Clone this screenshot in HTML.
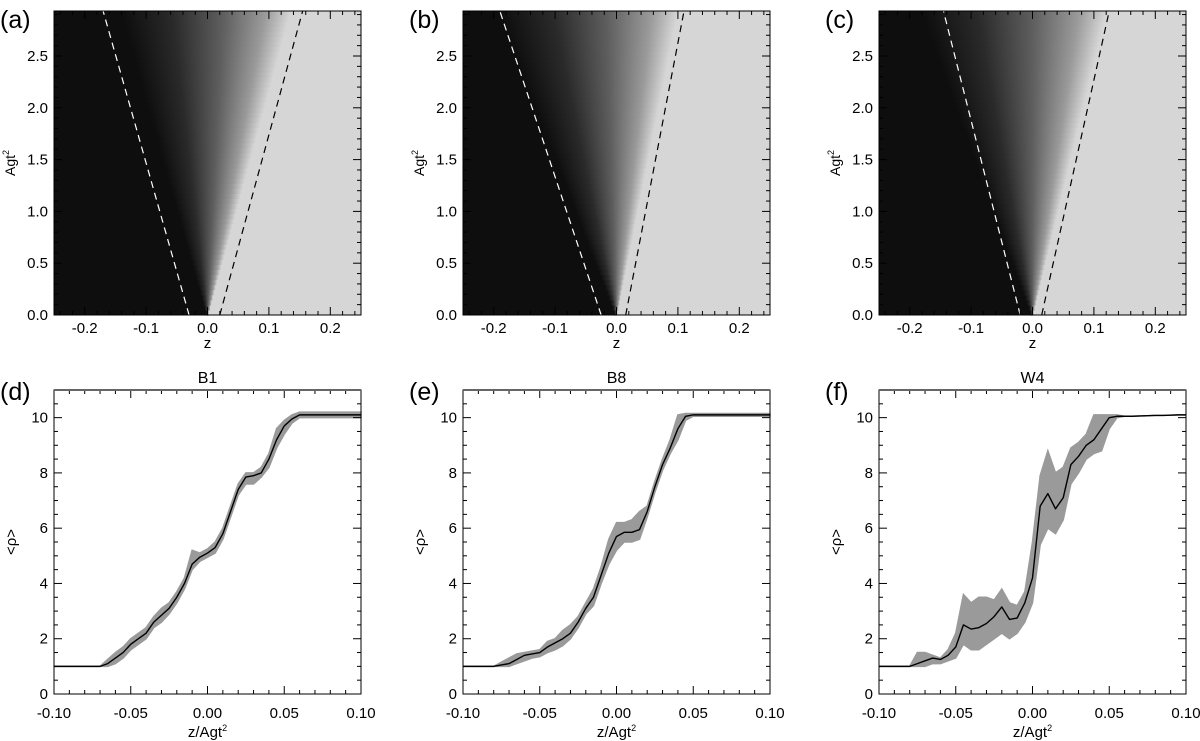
<!DOCTYPE html>
<html><head><meta charset="utf-8"><style>
html,body{margin:0;padding:0;background:#fff;}
svg{display:block;font-family:"Liberation Sans",sans-serif;}
</style></head><body>
<svg id="fig" width="1200" height="741" viewBox="0 0 1200 741">
<defs>
<linearGradient id="fan" x1="0" y1="0" x2="1" y2="0">
<stop offset="0" stop-color="#0e0e0e"/><stop offset="0.3" stop-color="#2a2a2a"/>
<stop offset="0.6" stop-color="#5e5e5e"/><stop offset="0.85" stop-color="#9a9a9a"/>
<stop offset="1" stop-color="#d6d6d6"/></linearGradient>
</defs>
</svg>
<script>
// ---- data ----
const panelLetters = ["(a)","(b)","(c)","(d)","(e)","(f)"];
const runNames = ["B1","B8","W4"];
const fanLeft = [-0.14,-0.19,-0.18];
const fanRight = [0.135,0.10,0.12];
const whiteLineBottom = [-0.03,-0.025,-0.02];
const whiteLineTop = [-0.17,-0.19,-0.145];
const blackLineBottom = [0.02,0.015,0.015];
const blackLineTop = [0.155,0.11,0.125];
const topXTicks = [-0.2,-0.1,0.0,0.1,0.2];
const topYTicks = [0.0,0.5,1.0,1.5,2.0,2.5];
const botXTicks = [-0.10,-0.05,0.00,0.05,0.10];
const botYTicks = [0,2,4,6,8,10];
const zx = Array.from({length:41},(_, i)=> -0.1 + i*0.005);
const meanB1 = [1,1,1,1,1,1,1,1.1,1.3,1.5,1.8,2.0,2.2,2.6,2.85,3.1,3.5,4.0,4.7,4.95,5.1,5.3,5.8,6.6,7.4,7.85,7.9,8.0,8.5,9.2,9.7,9.95,10.1,10.1,10.1,10.1,10.1,10.1,10.1,10.1,10.1];
const loB1 =   [1,1,1,1,1,1,1,1.0,1.1,1.3,1.6,1.8,2.0,2.4,2.6,2.9,3.3,3.8,4.5,4.8,4.95,5.1,5.6,6.4,7.2,7.6,7.6,7.85,8.2,8.9,9.4,9.8,10.0,10.0,10.0,10.0,10.0,10.0,10.0,10.0,10.0];
const hiB1 =   [1,1,1,1,1,1,1,1.25,1.5,1.7,2.0,2.2,2.4,2.8,3.1,3.3,3.7,4.2,5.2,5.1,5.25,5.5,6.0,6.8,7.6,8.0,8.0,8.2,8.7,9.6,9.9,10.1,10.2,10.2,10.2,10.2,10.2,10.2,10.2,10.2,10.2];
const meanB8 = [1,1,1,1,1,1.05,1.1,1.25,1.4,1.45,1.5,1.7,1.85,2.0,2.2,2.6,3.1,3.5,4.3,5.1,5.7,5.85,5.85,5.95,6.6,7.5,8.3,8.9,9.6,10.05,10.1,10.1,10.1,10.1,10.1,10.1,10.1,10.1,10.1,10.1,10.1];
const loB8 =   [1,1,1,1,1,1.0,1.0,1.1,1.2,1.3,1.35,1.5,1.6,1.75,2.0,2.4,2.9,3.2,4.0,4.7,5.2,5.5,5.5,5.6,6.4,7.3,8.1,8.7,9.2,9.9,10.05,10.05,10.05,10.05,10.05,10.05,10.05,10.05,10.05,10.05,10.05];
const hiB8 =   [1,1,1,1,1,1.15,1.3,1.45,1.5,1.55,1.6,1.9,2.0,2.3,2.5,2.8,3.3,3.8,4.6,5.6,6.2,6.2,6.3,6.6,6.8,7.7,8.5,9.2,10.1,10.15,10.15,10.15,10.15,10.15,10.15,10.15,10.15,10.15,10.15,10.15,10.15];
const meanW4 = [1,1,1,1,1,1.1,1.2,1.3,1.25,1.4,1.7,2.5,2.35,2.4,2.55,2.8,3.15,2.7,2.75,3.3,4.2,6.8,7.25,6.7,7.1,8.3,8.6,9.0,9.2,9.6,10.0,10.05,10.05,10.05,10.06,10.07,10.08,10.08,10.09,10.1,10.1];
const loW4 =   [1,1,1,1,1,1.0,1.0,1.1,1.1,1.2,1.3,1.8,1.6,1.6,1.8,2.0,2.2,2.0,2.2,2.6,3.3,5.4,6.0,5.8,6.3,7.6,8.0,8.5,8.7,8.8,9.6,10.0,10.05,10.05,10.06,10.07,10.08,10.08,10.09,10.1,10.1];
const hiW4 =   [1,1,1,1,1,1.5,1.5,1.4,1.3,1.6,2.2,3.6,3.3,3.5,3.5,3.4,3.8,3.3,3.2,3.7,5.5,7.9,8.8,8.0,8.2,8.9,9.1,9.4,10.1,10.1,10.1,10.1,10.05,10.05,10.06,10.07,10.08,10.08,10.09,10.1,10.1];
const means=[meanB1,meanB8,meanW4], los=[loB1,loB8,loW4], his=[hiB1,hiB8,hiW4];

// ---- layout ----
const NS="http://www.w3.org/2000/svg";
const svg=document.getElementById('fig');
const PX=[54,463,879], PW=307;
const TOP={y0:11,y1:315}, BOT={y0:390,y1:694};
function el(tag,attrs,parent){const e=document.createElementNS(NS,tag);for(const k in attrs)e.setAttribute(k,attrs[k]);(parent||svg).appendChild(e);return e;}
function txt(s,attrs,parent){const t=el('text',attrs,parent);t.textContent=s;return t;}

function ticks(g,sx,sy,x0,x1,y0,y1,xmin,xmax,xmaj,xmin_step,ymin,ymax,ymaj,ymin_step){
  const eps=1e-9;
  for(let v=Math.ceil(xmin/xmin_step-eps)*xmin_step; v<=xmax+eps; v+=xmin_step){
    const maj=Math.abs(v/xmaj-Math.round(v/xmaj))<1e-6; const L=maj?8:4; const X=sx(v);
    const t1=el('line',{x1:X,x2:X,y1:y1,y2:y1-L,stroke:'#000','stroke-width':1},g);
    
    const t2=el('line',{x1:X,x2:X,y1:y0,y2:y0+L,stroke:'#000','stroke-width':1},g);
    
  }
  for(let v=Math.ceil(ymin/ymin_step-eps)*ymin_step; v<=ymax+eps; v+=ymin_step){
    const maj=Math.abs(v/ymaj-Math.round(v/ymaj))<1e-6; const L=maj?8:4; const Y=sy(v);
    const t1=el('line',{x1:x0,x2:x0+L,y1:Y,y2:Y,stroke:'#000','stroke-width':1},g);
    
    const t2=el('line',{x1:x1,x2:x1-L,y1:Y,y2:Y,stroke:'#000','stroke-width':1},g);
    
  }
}

for(let p=0;p<3;p++){
  const x0=PX[p], x1=PX[p]+PW, y0=TOP.y0, y1=TOP.y1;
  const sx=v=>x0+(v+0.25)/0.5*PW;
  const sy=v=>y1-v*103.6;
  const ymax=(y1-y0)/103.6;
  const g=el('g',{});
  
  
  const bgR=el('rect',{x:x0,y:y0,width:PW,height:y1-y0,fill:'#d6d6d6'},g);
  
  const bgL=el('polygon',{points:`${x0},${y1} ${sx(0)},${y1} ${sx(fanLeft[p])},${y0} ${x0},${y0}`,fill:'#0e0e0e'},g);
  
  const N=60;
  for(let i=0;i<N;i++){
    const hA=ymax*i/N, hB=ymax*(i+1)/N, f=(i+1)/N;
    const l=fanLeft[p]*f, r=fanRight[p]*f;
    const s=el('rect',{x:sx(l),y:sy(hB),width:Math.max(0.5,sx(r)-sx(l)),height:sy(hA)-sy(hB)+0.6,fill:'url(#fan)'},g);
    
  }
  const wl=el('line',{x1:sx(whiteLineBottom[p]),y1:y1,x2:sx(whiteLineTop[p]),y2:y0,stroke:'#fff','stroke-width':1.2,'stroke-dasharray':'7,5'},g);
  
  const bl=el('line',{x1:sx(blackLineBottom[p]),y1:y1,x2:sx(blackLineTop[p]),y2:y0,stroke:'#000','stroke-width':1.2,'stroke-dasharray':'7,5'},g);
  
  ticks(g,sx,sy,x0,x1,y0,y1,-0.25,0.25,0.1,0.02,0,ymax,0.5,0.1);
  const fr=el('rect',{x:x0,y:y0,width:PW,height:y1-y0,fill:'none',stroke:'#000','stroke-width':1},g);
  
  topXTicks.forEach(v=>{const t=txt(v.toFixed(1),{x:sx(v),y:333,'font-size':15,'text-anchor':'middle'},g);
    });
  topYTicks.forEach(v=>{const t=txt(v.toFixed(1),{x:x0-6,y:sy(v)+5,'font-size':15,'text-anchor':'end'},g);
    });
  const xt=txt('z',{x:sx(0),y:348,'font-size':15,'text-anchor':'middle'},g);
  
  const yt=el('text',{x:0,y:0,'font-size':14,'text-anchor':'middle',transform:`translate(${x0-39},${(y0+y1)/2}) rotate(-90)`},g);
  yt.innerHTML='Agt<tspan dy="-6" font-size="9">2</tspan>';
  
  const lt=txt(panelLetters[p],{x:x0-54,y:28,'font-size':25},g);
  

  const b0=BOT.y0, b1=BOT.y1;
  const bx=v=>x0+(v+0.1)/0.2*PW;
  const by=v=>b1-v*(b1-b0)/11;
  const h=el('g',{});
  
  
  let pts=zx.map((z,i)=>`${bx(z)},${by(his[p][i])}`);
  for(let i=zx.length-1;i>=0;i--) pts.push(`${bx(zx[i])},${by(los[p][i])}`);
  const band=el('polygon',{points:pts.join(' '),fill:'#9a9a9a',stroke:'#9a9a9a','stroke-width':1.5},h);
  
  const ln=el('polyline',{points:zx.map((z,i)=>`${bx(z)},${by(means[p][i])}`).join(' '),fill:'none',stroke:'#000','stroke-width':1.4,'stroke-linejoin':'round'},h);
  
  ticks(h,bx,by,x0,x1,b0,b1,-0.1,0.1,0.05,0.01,0,11,2,0.5);
  const fr2=el('rect',{x:x0,y:b0,width:PW,height:b1-b0,fill:'none',stroke:'#000','stroke-width':1},h);
  
  const topax=el('line',{x1:x0,x2:x1,y1:b0,y2:b0,stroke:'#666','stroke-width':2},h);
  
  botXTicks.forEach(v=>{const t=txt(v.toFixed(2),{x:bx(v),y:718,'font-size':15,'text-anchor':'middle'},h);
    });
  botYTicks.forEach(v=>{const t=txt(String(v),{x:x0-6,y:by(v)+5,'font-size':15,'text-anchor':'end'},h);
    });
  const xt2=el('text',{x:bx(0),y:737,'font-size':15,'text-anchor':'middle'},h);
  xt2.innerHTML='z/Agt<tspan dy="-6" font-size="9">2</tspan>';
  
  const yt2=txt('<ρ>',{x:0,y:0,'font-size':15,'text-anchor':'middle',transform:`translate(${x0-38},${(b0+b1)/2}) rotate(-90)`},h);
  
  const ti=txt(runNames[p],{x:(x0+x1)/2,y:383,'font-size':16,'text-anchor':'middle'},h);
  
  const lt2=txt(panelLetters[p+3],{x:x0-54,y:400,'font-size':25},h);
  
}
</script>
</body></html>
